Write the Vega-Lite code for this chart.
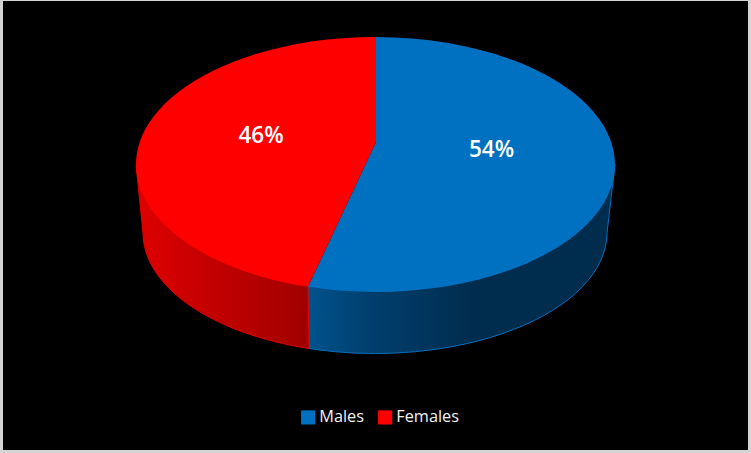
{
"$schema":"https://vega.github.io/schema/vega-lite/v6.json",
"width":745,"height":449,"autosize":"none",
"padding":{"left":3,"top":1,"right":3,"bottom":3},
"background":"#d4d4d4",
"view":{"fill":"#000000","stroke":null},
"data":{"values":[{"gender":"Males","share":0.54},{"gender":"Females","share":0.46}]},
"layer":[
{"transform":[{"filter":"datum.gender==='Males'"}],
 "mark":{"type":"point","filled":true,"opacity":1,"size":4,"stroke":"#0070c0","strokeWidth":1,
  "fill":{"x1":0,"y1":0,"x2":1,"y2":0,"gradient":"linear","stops":[{"offset":0,"color":"#00538c"},{"offset":0.2,"color":"#003f6e"},{"offset":0.55,"color":"#002c4d"},{"offset":1,"color":"#002c4d"}]},
  "shape":"M-67.5,61 L-66.5,123 A232,121 0 0 0 231.5,7.5 L239.5,-61 Z"},
 "encoding":{}},
{"transform":[{"filter":"datum.gender==='Females'"}],
 "mark":{"type":"point","filled":true,"opacity":1,"size":4,"stroke":"#e00000","strokeWidth":1,
  "fill":{"x1":0,"y1":0,"x2":1,"y2":0,"gradient":"linear","stops":[{"offset":0,"color":"#df0000"},{"offset":1,"color":"#a00000"}]},
  "shape":"M-239.5,-61 L-232.5,7.5 A232,121 0 0 0 -66.5,123 L-67.5,61 Z"},
 "encoding":{}},
{"transform":[{"filter":"datum.gender==='Males'"}],
 "mark":{"type":"point","filled":true,"opacity":1,"size":4,"fill":"#0070c0","stroke":null,
  "shape":"M0.5,-83.5 L0.5,-188.5 A239.5,127.5 0 1 1 -67.5,61.33 Z"},
 "encoding":{}},
{"transform":[{"filter":"datum.gender==='Females'"}],
 "mark":{"type":"point","filled":true,"opacity":1,"size":4,"fill":"#ff0000","stroke":null,
  "shape":"M0.5,-83.5 L-67.5,61.33 A239.5,127.5 0 0 1 0.5,-188.5 Z"},
 "encoding":{}},
{"mark":{"type":"square","size":0},
 "encoding":{
  "color":{"field":"gender","type":"nominal","sort":["Males","Females"],
   "scale":{"domain":["Males","Females"],"range":["#0070c0","#ff0000"]},
   "legend":{"orient":"none","direction":"horizontal","legendX":297,"legendY":408,"title":null,"symbolSize":200,"symbolOpacity":1,"symbolStrokeWidth":0,"labelColor":"#f2f2f2","labelFont":"Open Sans","labelFontSize":16.3,"columnPadding":12,"labelOffset":3}}
 }},
{"transform":[{"filter":"datum.gender==='Males'"}],
 "mark":{"type":"text","font":"Open Sans","fontSize":22.5,"fontWeight":600,"color":"#ffffff","dx":116,"dy":-75.5},
 "encoding":{"text":{"field":"share","type":"quantitative","format":".0%"}}},
{"transform":[{"filter":"datum.gender==='Females'"}],
 "mark":{"type":"text","font":"Open Sans","fontSize":22.5,"fontWeight":600,"color":"#ffffff","dx":-114.5,"dy":-89.5},
 "encoding":{"text":{"field":"share","type":"quantitative","format":".0%"}}}
]
}
